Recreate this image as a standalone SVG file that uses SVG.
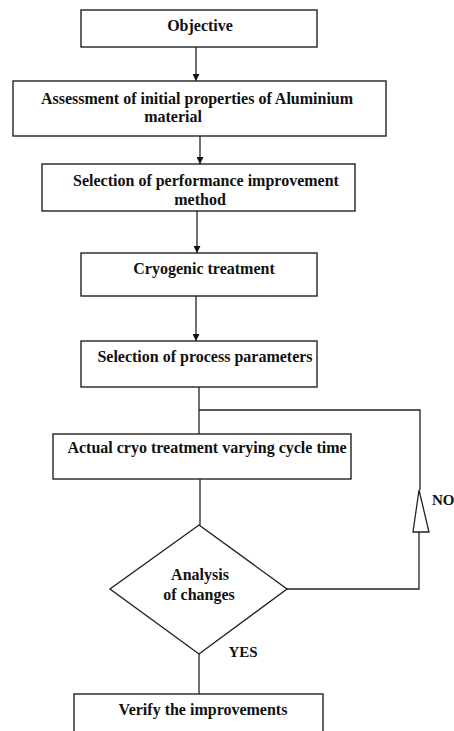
<svg xmlns="http://www.w3.org/2000/svg" width="454" height="731" viewBox="0 0 454 731">
<defs>
<style>
.box{fill:#fff;stroke:#222;stroke-width:1.4}
.ln{fill:none;stroke:#222;stroke-width:1.3}
.t{font-family:"Liberation Serif","Times New Roman",serif;font-weight:bold;font-size:16px;fill:#111;text-anchor:middle}
</style>
<marker id="ah" viewBox="0 0 10 10" refX="10" refY="5" markerWidth="7" markerHeight="7" orient="auto" markerUnits="userSpaceOnUse">
<path d="M0,0 L10,5 L0,10 z" fill="#111"/>
</marker>
</defs>
<rect width="454" height="731" fill="#fff"/>
<g id="connectors">
<line class="ln" x1="196" y1="47" x2="196" y2="81" marker-end="url(#ah)"/>
<line class="ln" x1="200" y1="136" x2="200" y2="164" marker-end="url(#ah)"/>
<line class="ln" x1="197" y1="211" x2="197" y2="253" marker-end="url(#ah)"/>
<line class="ln" x1="196" y1="296" x2="196" y2="341" marker-end="url(#ah)"/>
<line class="ln" x1="199" y1="384" x2="199" y2="434"/>
<polyline class="ln" points="199,410 420,410 420,490"/>
<polyline class="ln" points="287,589 419,589 419,532"/>
<polygon points="419,490 413,532 429,532" fill="#fff" stroke="#222" stroke-width="1.3"/>
<line class="ln" x1="200" y1="479" x2="200" y2="525"/>
<line class="ln" x1="199" y1="654" x2="199" y2="694"/>
<text class="t" x="432" y="505" style="text-anchor:start;font-size:15px">NO</text>
<text class="t" x="243" y="657" style="font-size:15px">YES</text>
</g>
<g id="objective">
<rect class="box" x="81" y="10" width="236" height="37"/>
<text class="t" x="200" y="31">Objective</text>
</g>
<g id="assessment">
<rect class="box" x="13" y="81" width="373" height="55"/>
<text class="t" x="197" y="104">Assessment of initial properties of Aluminium</text>
<text class="t" x="173" y="122">material</text>
</g>
<g id="selection-method">
<rect class="box" x="42" y="164" width="313" height="47"/>
<text class="t" x="206" y="186">Selection of performance improvement</text>
<text class="t" x="200" y="205">method</text>
</g>
<g id="cryogenic">
<rect class="box" x="81" y="253" width="236" height="43"/>
<text class="t" x="204" y="274">Cryogenic treatment</text>
</g>
<g id="process-params">
<rect class="box" x="81" y="341" width="236" height="46"/>
<text class="t" x="205" y="362">Selection of process parameters</text>
</g>
<g id="actual-cryo">
<rect class="box" x="53" y="434" width="298" height="45"/>
<text class="t" x="207" y="453">Actual cryo treatment varying cycle time</text>
</g>
<g id="analysis">
<polygon class="box" points="199,525 287,589 199,654 110,589"/>
<text class="t" x="200" y="580">Analysis</text>
<text class="t" x="199" y="600">of changes</text>
</g>
<g id="verify">
<rect class="box" x="74" y="694" width="249" height="45"/>
<text class="t" x="203" y="715">Verify the improvements</text>
</g>
</svg>
